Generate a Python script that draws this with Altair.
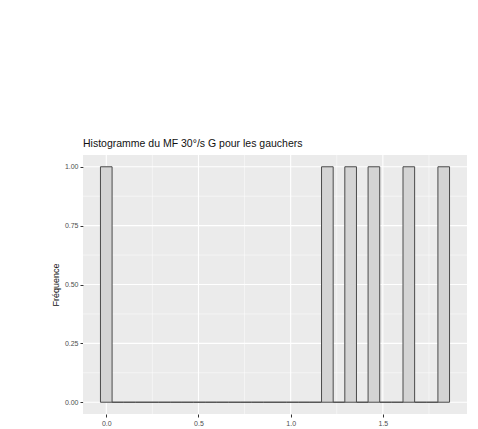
import altair as alt
import numpy as np
import pandas as pd

observations = [0.0, 1.20, 1.325, 1.45, 1.64, 1.83]
n_bins = 30

title_text = "Histogramme du MF 30°/s G pour les gauchers"
y_title = "Fréquence"

x_major = [0.0, 0.5, 1.0, 1.5]
x_minor = [0.25, 0.75, 1.25, 1.75]
y_major = [0.0, 0.25, 0.5, 0.75, 1.0]
y_minor = [0.125, 0.375, 0.625, 0.875]

# ggplot-like binning: 30 bins, centres spanning the data range
lo, hi = min(observations), max(observations)
w = (hi - lo) / (n_bins - 1)
edges = lo - w / 2 + w * np.arange(n_bins + 1)
counts, _ = np.histogram(observations, bins=edges)
bars = pd.DataFrame({"x0": edges[:-1], "x1": edges[1:], "count": counts, "base": 0})

span = (edges[-1] - edges[0])
x_dom = [edges[0] - 0.05 * span, edges[-1] + 0.05 * span]
y_dom = [-0.05, 1.05]

xs = alt.Scale(domain=x_dom, nice=False, zero=False)
ys = alt.Scale(domain=y_dom, nice=False, zero=False)

grid_major_x = alt.Chart(pd.DataFrame({"v": x_major})).mark_rule(color="white", strokeWidth=1.1).encode(
    x=alt.X("v:Q", scale=xs, axis=alt.Axis(values=x_major, format=".1f", title=None))
)
grid_minor_x = alt.Chart(pd.DataFrame({"v": x_minor})).mark_rule(color="white", strokeWidth=0.5).encode(
    x=alt.X("v:Q", scale=xs)
)
grid_major_y = alt.Chart(pd.DataFrame({"v": y_major})).mark_rule(color="white", strokeWidth=1.1).encode(
    y=alt.Y("v:Q", scale=ys, axis=alt.Axis(values=y_major, format=".2f", title=y_title))
)
grid_minor_y = alt.Chart(pd.DataFrame({"v": y_minor})).mark_rule(color="white", strokeWidth=0.5).encode(
    y=alt.Y("v:Q", scale=ys)
)

hist = alt.Chart(bars).mark_rect(fill="#D4D4D4", stroke="#4a4a4a", strokeWidth=1).encode(
    x=alt.X("x0:Q", scale=xs),
    x2="x1:Q",
    y=alt.Y("base:Q", scale=ys),
    y2="count:Q",
)

chart = alt.layer(grid_minor_x, grid_minor_y, grid_major_x, grid_major_y, hist).properties(
    width=384,
    height=259,
    autosize=alt.AutoSizeParams(type="none"),
    padding={"left": 75, "top": 147, "right": 3, "bottom": 15},
    title=alt.TitleParams(title_text, anchor="start", frame="group", fontSize=10.5,
                          font="Liberation Sans", fontWeight="normal", color="#111111", offset=5),
).configure_view(
    fill="#EBEBEB", stroke=None
).configure_axis(
    grid=False, domain=False, labelFont="Liberation Sans", labelFontSize=7, labelColor="#4D4D4D",
    tickColor="#333333", tickSize=3, labelPadding=2,
    titleFont="Liberation Sans", titleFontSize=9, titleFontWeight="normal", titleColor="#111111",
).configure_axisY(titlePadding=4)

chart.save("out.html", embed_options={"renderer": "svg", "actions": False})
